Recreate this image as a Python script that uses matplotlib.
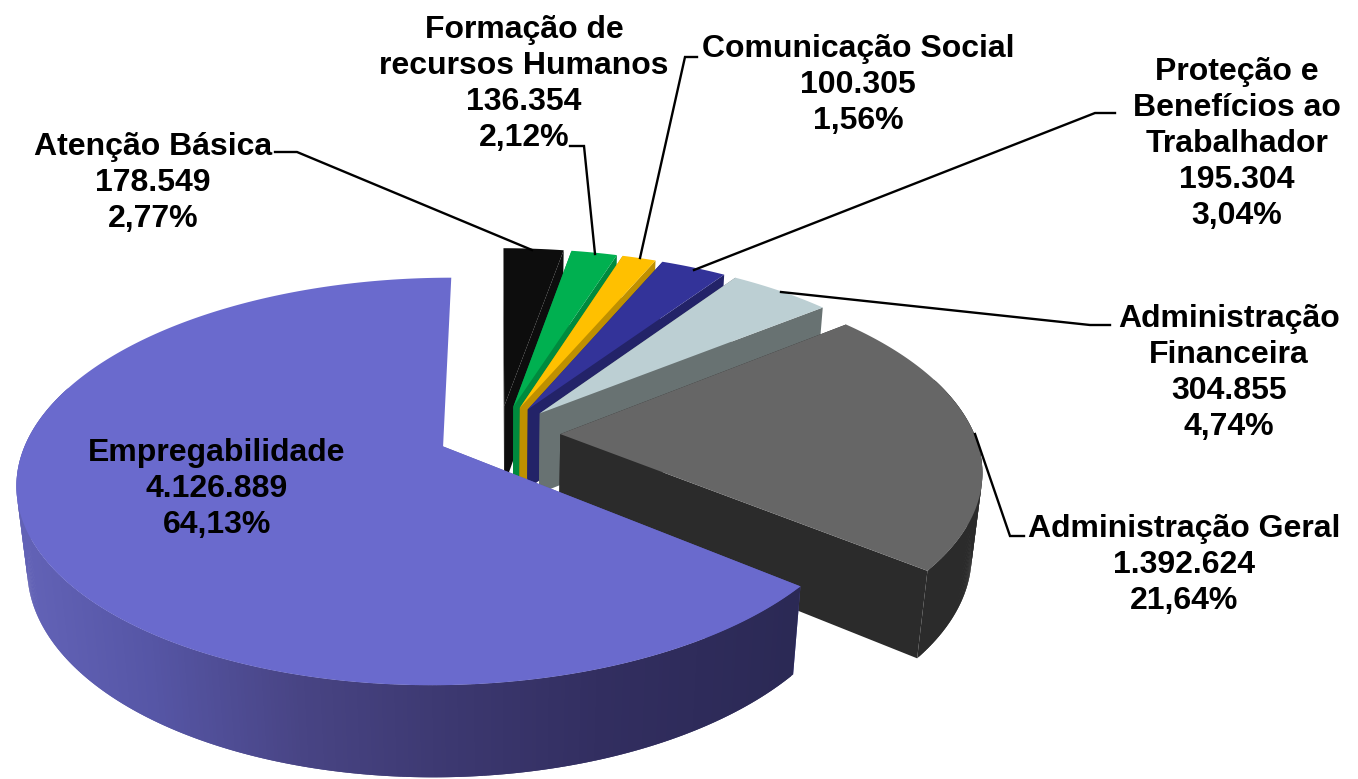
import numpy as np
import matplotlib
matplotlib.use('Agg')
import matplotlib.pyplot as plt

# data of the pie, clockwise from 12 o'clock
categories = ['Atenção Básica', 'Formação de\nrecursos Humanos', 'Comunicação Social',
              'Proteção e\nBenefícios ao\nTrabalhador', 'Administração\nFinanceira',
              'Administração Geral', 'Empregabilidade']
values = [178549, 136354, 100305, 195304, 304855, 1392624, 4126889]

top_colors = ['#0D0D0D', '#00B050', '#FFC000', '#333399', '#BCCFD3', '#666666', '#6A6ACD']
side_colors = ['#0D0D0D', '#008A3E', '#BF9000', '#232368', '#687272', '#2B2B2B', '#5A5AB2']

# label centres in pixels
label_x = [153, 524, 858, 1237, 1229, 1184, 217]
label_y = [183, 84, 85, 144, 373, 565, 489]

# leader lines in pixels, the last slice has no line
leaders = [[(275, 152), (297, 152), (532, 250)],
           [(570, 146), (584, 146), (595, 254)],
           [(697, 57), (685, 57), (640, 258)],
           [(1115, 113), (1095, 113), (694, 270)],
           [(1110, 325), (1090, 325), (781, 292)],
           [(1024, 536), (1010, 536), (975, 434)]]

# perspective of the disc
cx, cy = 499.0, 434.0
rx, ry = 414.0, 193.5
k = 0.17        # near side bigger than far side
q = 0.022       # bottom face a bit farther away
depth = 83.0
explode = 0.148


def proj(u, v, h):
    w = 1 + k * v + q * h
    return cx + rx * u / w, cy - (ry * v - depth * h) / w


fig = plt.figure(figsize=(13.58, 7.79), dpi=100)
ax = fig.add_axes([0, 0, 1, 1])
ax.set_xlim(0, 1358)
ax.set_ylim(779, 0)
ax.axis('off')

total = sum(values)
edges = np.concatenate([[0], np.cumsum(values)]) / total * 2 * np.pi

# gradient along the side of the big slice
grad_x = [30, 150, 300, 450, 600, 790]
grad_r = [98, 86, 72, 60, 50, 43]
grad_g = [98, 86, 68, 56, 46, 41]
grad_b = [182, 166, 132, 112, 96, 85]

for i in range(len(values)):
    a0, a1 = edges[i], edges[i + 1]
    mid = (a0 + a1) / 2
    ou, ov = explode * np.sin(mid), explode * np.cos(mid)
    a = np.linspace(a0, a1, max(int((a1 - a0) * 120), 12))
    u = ou + np.sin(a)
    v = ov + np.cos(a)
    big = categories[i] == 'Empregabilidade'

    # the two cut faces, the far one of the big slice can not be seen
    for j in [0, -1]:
        if big and j == -1:
            continue
        pts = [proj(ou, ov, 0), proj(u[j], v[j], 0), proj(u[j], v[j], 1), proj(ou, ov, 1)]
        ax.fill([p[0] for p in pts], [p[1] for p in pts], color=side_colors[i], lw=0)

    # outer wall in strips that overlap one step, only the part facing the viewer
    for j in range(len(a) - 2):
        if np.cos(a[j]) > 0.3:
            continue
        pts = [proj(u[j], v[j], 0), proj(u[j + 2], v[j + 2], 0),
               proj(u[j + 2], v[j + 2], 1), proj(u[j], v[j], 1)]
        col = side_colors[i]
        if big:
            xm = np.mean([p[0] for p in pts])
            col = (np.interp(xm, grad_x, grad_r) / 255, np.interp(xm, grad_x, grad_g) / 255,
                   np.interp(xm, grad_x, grad_b) / 255)
        ax.fill([p[0] for p in pts], [p[1] for p in pts], color=col, lw=0)

    # top face
    xs, ys = proj(np.concatenate([[ou], u]), np.concatenate([[ov], v]), 0)
    ax.fill(xs, ys, color=top_colors[i], lw=0)

# leader lines
for line in leaders:
    ax.plot([p[0] for p in line], [p[1] for p in line], color='black', lw=1.7,
            solid_joinstyle='miter')

# labels
for i in range(len(values)):
    val = f'{values[i]:,}'.replace(',', '.')
    pct = f'{100 * values[i] / total:.2f}'.replace('.', ',') + '%'
    ax.text(label_x[i], label_y[i], categories[i] + '\n' + val + '\n' + pct,
            ha='center', va='center', multialignment='center', color='black',
            family='Liberation Sans', weight='bold', fontsize=23, linespacing=1.27)

plt.savefig('out.png', dpi=100)
